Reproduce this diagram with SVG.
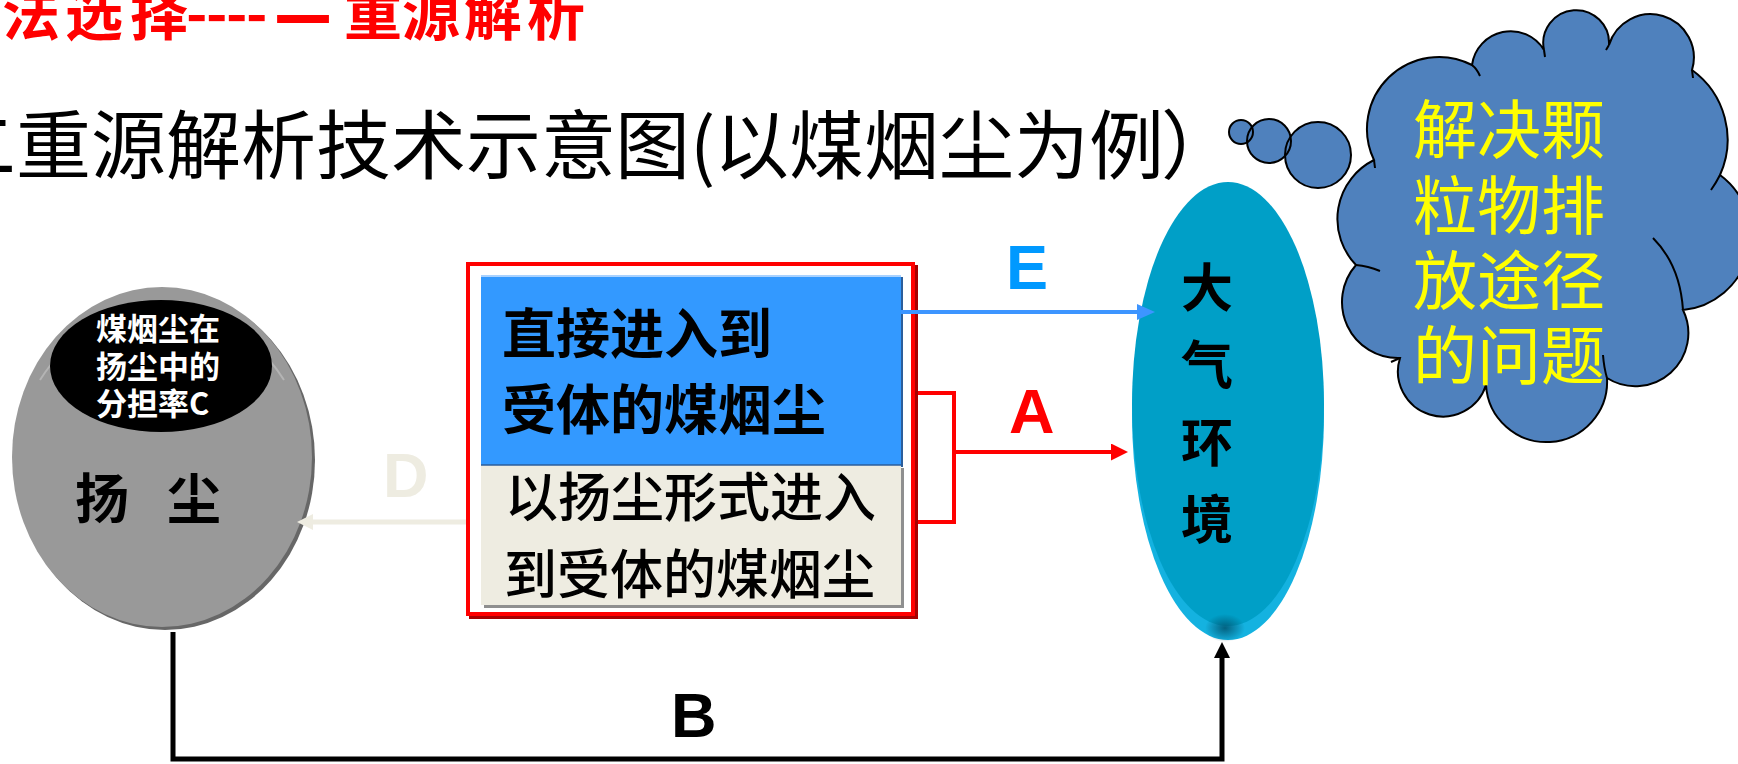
<svg xmlns="http://www.w3.org/2000/svg" width="1738" height="764" viewBox="0 0 1738 764">
<style>
.cjk{font-family:"Noto Sans CJK SC","Liberation Sans",sans-serif}
.lbl{font-family:"Liberation Sans",Arial,sans-serif;font-weight:bold;font-size:63px}
.conn{fill:none;stroke-linejoin:miter;stroke-linecap:butt}
.cl{fill:none;stroke:#000;stroke-width:2}
</style>
<defs>
<marker id="m-blue" viewBox="0 0 18 16" refX="2" refY="8" markerWidth="18" markerHeight="16" markerUnits="userSpaceOnUse" orient="auto"><path d="M0,0L18,8L0,16z" fill="#3D95FF"/></marker>
<marker id="m-red" viewBox="0 0 17 17" refX="2" refY="8.5" markerWidth="17" markerHeight="17" markerUnits="userSpaceOnUse" orient="auto"><path d="M0,0L17,8.5L0,17z" fill="#FF0000"/></marker>
<marker id="m-beige" viewBox="0 0 16 16" refX="2" refY="8" markerWidth="16" markerHeight="16" markerUnits="userSpaceOnUse" orient="auto"><path d="M0,0L16,8L0,16z" fill="#EEECE1"/></marker>
<marker id="m-black" viewBox="0 0 16 16" refX="2" refY="8" markerWidth="16" markerHeight="16" markerUnits="userSpaceOnUse" orient="auto"><path d="M0,0L16,8L0,16z" fill="#000"/></marker>
<radialGradient id="g-dark" cx="0.5" cy="0.5" r="0.5"><stop offset="0" stop-color="#005470" stop-opacity="0.85"/><stop offset="1" stop-color="#005470" stop-opacity="0"/></radialGradient>
</defs>
<rect width="1738" height="764" fill="#fff"/>

<g id="title-red">
<text class="cjk" font-size="58" font-weight="bold" fill="#FF0000" x="2 65 130 186 206 226 246 274 344 402 464 527" y="35 35 35 35 35 35 35 22 35 35 35 35">法选择----二重源解析</text>
</g>
<g id="title">
<text class="cjk" font-size="75" fill="#000" y="173" x="-59 16 91 166 241 316 391 466 541 615 690 714 789 864 939 1014 1089 1161">二重源解析技术示意图(以煤烟尘为例）</text>
</g>

<g id="node-dust">
<ellipse cx="165" cy="460" rx="150" ry="170" fill="#676767"/>
<ellipse cx="162" cy="457" rx="150" ry="170" fill="#999999"/>
<path d="M40,380 A150,170 0 0 1 284,380" fill="none" stroke="#B4B4B4" stroke-width="2"/>
<ellipse cx="161" cy="366" rx="111" ry="66" fill="#000"/>
<text class="cjk" font-size="31" font-weight="bold" fill="#fff"><tspan x="96" y="340">煤烟尘在</tspan><tspan x="96" y="378">扬尘中的</tspan><tspan x="96" y="415">分担率C</tspan></text>
<text class="cjk" font-size="54" font-weight="bold" fill="#000" y="519"><tspan x="75">扬</tspan><tspan x="167">尘</tspan></text>
</g>

<g id="node-box">
<rect x="471" y="267" width="445" height="350" fill="none" stroke="#A80000" stroke-width="4"/>
<rect x="468" y="264" width="445" height="350" fill="#fff" stroke="#FF0000" stroke-width="4"/>
<rect x="484" y="468" width="420" height="140" fill="#8F8F8F"/>
<rect x="483" y="277" width="420" height="190" fill="#2B5E9B"/>
<rect x="481" y="275" width="420" height="190" fill="#3399FF"/>
<line x1="481" y1="276" x2="901" y2="276" stroke="#A9D2FF" stroke-width="2"/>
<rect x="481" y="465" width="420" height="140" fill="#EEECE1"/>
<line x1="481" y1="465" x2="903" y2="465" stroke="#2B5E9B" stroke-width="1.5"/>
<text class="cjk" font-size="54" font-weight="bold" fill="#000"><tspan x="502" y="354">直接进入到</tspan><tspan x="502" y="430">受体的煤烟尘</tspan></text>
<text class="cjk" font-size="53" font-weight="500" fill="#000"><tspan x="505" y="517">以扬尘形式进入</tspan><tspan x="504" y="594">到受体的煤烟尘</tspan></text>
</g>

<g id="node-atmosphere">
<ellipse cx="1228" cy="415" rx="96" ry="225" fill="#14B2E0"/>
<ellipse cx="1228" cy="404" rx="96" ry="222" fill="#009FC7"/>
<ellipse cx="1225" cy="628" rx="20" ry="14" fill="url(#g-dark)"/>
<text class="cjk" font-size="52" font-weight="bold" fill="#000" text-anchor="middle"><tspan x="1207" y="307">大</tspan><tspan x="1207" y="384">气</tspan><tspan x="1207" y="462">环</tspan><tspan x="1207" y="539">境</tspan></text>
</g>

<g id="node-cloud">
<g fill="#4F81BD">
<circle cx="1318" cy="155" r="33"/>
<circle cx="1269" cy="141" r="22"/>
<circle cx="1241" cy="132" r="12"/>
</g>
<g class="cl">
<circle cx="1318" cy="155" r="33"/>
<circle cx="1269" cy="141" r="22"/>
<circle cx="1241" cy="132" r="12"/>
</g>
<path d="M1374,160 A72,72 0 0 1 1472,65 A39,39 0 0 1 1544,50 A32.9,32.9 0 1 1 1609,45 A43.3,43.3 0 0 1 1692,70 A86,86 0 0 1 1720,175 A75,75 0 0 1 1683,310 A53,53 0 0 1 1607,378 A60.6,60.6 0 0 1 1486,385 A45,45 0 0 1 1400,358 A56,56 0 0 1 1356,265 A66,66 0 0 1 1374,160 Z" fill="#4F81BD" stroke="#000" stroke-width="2"/>
<path class="cl" d="M1472,65 Q1477,69 1480,76 M1544,50 L1545,57 M1609,45 L1606,50 M1692,70 L1693,78 M1720,175 Q1716,183 1711,190 M1653,238 Q1680,265 1683,310 M1603,355 Q1604,368 1607,378 M1486,385 L1484,376 M1400,358 L1391,362 M1356,265 Q1368,266 1380,271 M1374,160 L1375,168"/>
<text class="cjk" font-size="64" fill="#FFFF00" text-anchor="middle"><tspan x="1509" y="153">解决颗</tspan><tspan x="1509" y="229">粒物排</tspan><tspan x="1509" y="304">放途径</tspan><tspan x="1509" y="379">的问题</tspan></text>
</g>

<g id="connectors">
<path class="conn" d="M901,312 H1139" stroke="#3D95FF" stroke-width="4" marker-end="url(#m-blue)"/>
<path class="conn" d="M918,393 H954 V522 H918" stroke="#FF0000" stroke-width="4"/>
<path class="conn" d="M954,452 H1113" stroke="#FF0000" stroke-width="4" marker-end="url(#m-red)"/>
<path class="conn" d="M466,522 H311" stroke="#EEECE1" stroke-width="5" marker-end="url(#m-beige)"/>
<path class="conn" d="M173,632 V759 H1222 V656" stroke="#000" stroke-width="5" marker-end="url(#m-black)"/>
<text class="lbl" x="1006" y="289" fill="#0099FF">E</text>
<text class="lbl" x="1009" y="433" fill="#FF0000">A</text>
<text class="lbl" x="383" y="497" fill="#EEECE1">D</text>
<text class="lbl" x="671" y="737" fill="#000">B</text>
</g>
</svg>
